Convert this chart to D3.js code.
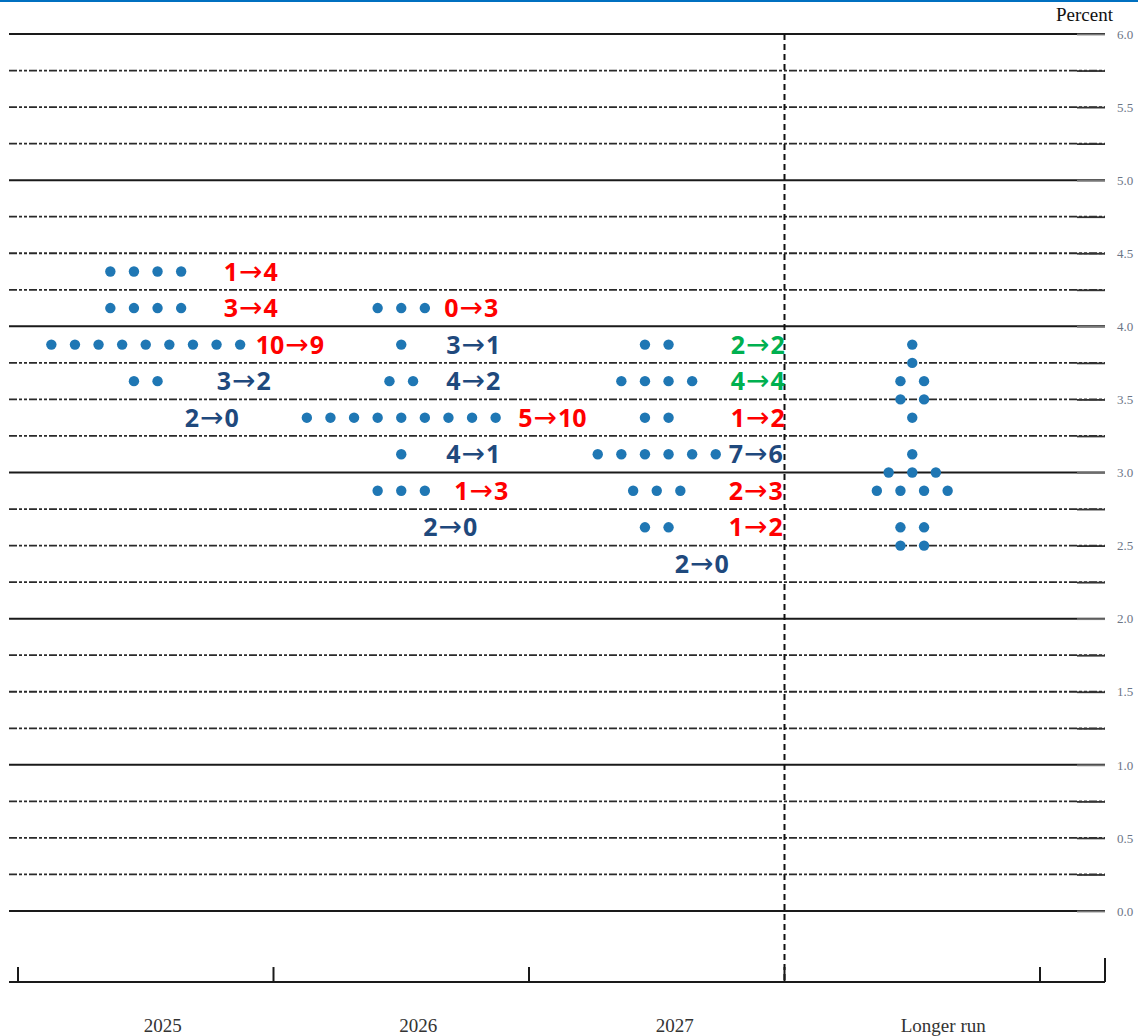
<!DOCTYPE html>
<html>
<head>
<meta charset="utf-8">
<script src="https://cdn.jsdelivr.net/npm/d3@7"></script>
<style>
	body { margin: 0; background: #fff; }
	svg { display: block; }
</style>
</head>
<body>
<div id="chart"></div>
<script>
const categories = ["2025", "2026", "2027", "Longer run"];

// [category, midpoint of target range, number of participants]
const dotRows = [
	["2025", 4.375, 4], ["2025", 4.125, 4], ["2025", 3.875, 9], ["2025", 3.625, 2],
	["2026", 4.125, 3], ["2026", 3.875, 1], ["2026", 3.625, 2], ["2026", 3.375, 9], ["2026", 3.125, 1], ["2026", 2.875, 3],
	["2027", 3.875, 2], ["2027", 3.625, 4], ["2027", 3.375, 2], ["2027", 3.125, 6], ["2027", 2.875, 3], ["2027", 2.625, 2],
	["Longer run", 3.875, 1], ["Longer run", 3.75, 1], ["Longer run", 3.625, 2], ["Longer run", 3.5, 2],
	["Longer run", 3.375, 1], ["Longer run", 3.125, 1], ["Longer run", 3.0, 3], ["Longer run", 2.875, 4],
	["Longer run", 2.625, 2], ["Longer run", 2.5, 2]
];

// [category, rate, previous count, current count, colour key]
const changeRows = [
	["2025", 4.375, 1, 4, "up"], ["2025", 4.125, 3, 4, "up"], ["2025", 3.875, 10, 9, "up"],
	["2025", 3.625, 3, 2, "down"], ["2025", 3.375, 2, 0, "down"],
	["2026", 4.125, 0, 3, "up"], ["2026", 3.875, 3, 1, "down"], ["2026", 3.625, 4, 2, "down"],
	["2026", 3.375, 5, 10, "up"], ["2026", 3.125, 4, 1, "down"], ["2026", 2.875, 1, 3, "up"],
	["2026", 2.625, 2, 0, "down"],
	["2027", 3.875, 2, 2, "same"], ["2027", 3.625, 4, 4, "same"], ["2027", 3.375, 1, 2, "up"],
	["2027", 3.125, 7, 6, "down"], ["2027", 2.875, 2, 3, "up"], ["2027", 2.625, 1, 2, "up"],
	["2027", 2.375, 2, 0, "down"]
];
// label offset from the column centre (px)
const changeLabelDx = [78, 78, 110, 71, 39, 43, 45, 45, 117, 45, 53, 22, 74, 74, 74, 72, 72, 72, 18];

const yTicks = d3.range(0, 6.001, 0.25);
const categoryLabelDx = [17, 17, 18, 31];

const changeColors = { up: "#ff0000", down: "#1f497d", same: "#00b050" };

class DotPlot {
	constructor(id) {
		this.w = 1138;
		this.h = 1036;
		this.dotSpacing = 23.6;
		this.dotRadius = 5.2;

		this.svg = d3.select(id)
			.append("svg")
			.attr("width", this.w)
			.attr("height", this.h);

		this.x = d3.scaleBand()
			.domain(categories)
			.range([18, 1040]);

		this.y = d3.scaleLinear()
			.domain([0, 6])
			.range([911, 34]);

		this.gridLeft = 9;
		this.gridRight = 1105;
		this.axisY = this.y(-0.486);
	}

	render() {
		this.drawFrame();
		this.drawGrid();
		this.drawAxes();
		this.drawDots();
		this.drawLabels();
	}

	drawFrame() {
		this.svg.append("rect")
			.attr("x", 0).attr("y", 0)
			.attr("width", this.w).attr("height", 2)
			.attr("fill", "#0070c0");
	}

	drawGrid() {
		this.svg.append("g")
			.selectAll("line")
			.data(yTicks)
			.enter().append("line")
			.attr("x1", this.gridLeft)
			.attr("x2", this.gridRight)
			.attr("y1", (d) => this.y(d))
			.attr("y2", (d) => this.y(d))
			.attr("stroke", (d) => d % 1 === 0 ? "#1a1a1a" : "#2a2a2a")
			.attr("stroke-width", (d) => d % 1 === 0 ? 2 : 1.8)
			.attr("stroke-dasharray", (d) => d % 1 === 0 ? null : "8,2,3,2,3,2");

		// divider before the longer run column
		this.svg.append("line")
			.attr("x1", this.x("Longer run"))
			.attr("x2", this.x("Longer run"))
			.attr("y1", this.y(6))
			.attr("y2", this.axisY)
			.attr("stroke", "#111")
			.attr("stroke-width", 2)
			.attr("stroke-dasharray", "6,4");
	}

	drawAxes() {
		let yAxis = d3.axisRight(this.y)
			.tickValues(yTicks)
			.tickSize(-28)
			.tickPadding(12)
			.tickFormat((d) => (d * 2) % 1 === 0 ? d3.format(".1f")(d) : "");

		let gy = this.svg.append("g")
			.attr("transform", "translate(" + this.gridRight + ",0)")
			.call(yAxis);
		gy.select(".domain").remove();
		gy.selectAll(".tick line")
			.attr("stroke", (d) => d % 1 === 0 ? "#777" : "#333")
			.attr("stroke-width", 1.8);
		gy.selectAll(".tick text")
			.attr("font-family", "Liberation Serif, serif")
			.attr("font-size", 13)
			.attr("fill", "#6b7586");

		this.svg.append("text")
			.attr("x", 1113)
			.attr("y", 21)
			.attr("text-anchor", "end")
			.attr("font-family", "Liberation Serif, serif")
			.attr("font-size", 19)
			.attr("fill", "#111")
			.text("Percent");

		// bottom axis
		let gx = this.svg.append("g");
		gx.append("line")
			.attr("x1", this.gridLeft)
			.attr("x2", this.gridRight)
			.attr("y1", this.axisY)
			.attr("y2", this.axisY)
			.attr("stroke", "#1a1a1a")
			.attr("stroke-width", 2);

		let bounds = categories.map((c) => this.x(c)).concat([this.x.range()[1]]);
		gx.selectAll(".xtick")
			.data(bounds)
			.enter().append("line")
			.attr("class", "xtick")
			.attr("x1", (d) => d).attr("x2", (d) => d)
			.attr("y1", this.axisY)
			.attr("y2", this.axisY - 15)
			.attr("stroke", "#1a1a1a")
			.attr("stroke-width", 2);

		gx.append("line")
			.attr("x1", this.gridRight).attr("x2", this.gridRight)
			.attr("y1", this.axisY)
			.attr("y2", this.axisY - 24)
			.attr("stroke", "#1a1a1a")
			.attr("stroke-width", 2);

		gx.selectAll(".xlabel")
			.data(categories)
			.enter().append("text")
			.attr("class", "xlabel")
			.attr("x", (d, i) => this.x(d) + this.x.bandwidth() / 2 + categoryLabelDx[i])
			.attr("y", 1032)
			.attr("text-anchor", "middle")
			.attr("font-family", "Liberation Serif, serif")
			.attr("font-size", 19)
			.attr("fill", "#333")
			.text((d) => d);
	}

	colCenter(cat) {
		return this.x(cat) + this.x.bandwidth() / 2;
	}

	drawDots() {
		let dots = [];
		dotRows.forEach(([cat, rate, n]) => {
			for (let i = 0; i < n; i++) {
				dots.push({ cat: cat, rate: rate, offset: i - (n - 1) / 2 });
			}
		});

		this.svg.append("g")
			.selectAll("circle")
			.data(dots)
			.enter().append("circle")
			.attr("cx", (d) => this.colCenter(d.cat) + d.offset * this.dotSpacing)
			.attr("cy", (d) => this.y(d.rate))
			.attr("r", this.dotRadius)
			.attr("fill", "#1f77b4");
	}

	drawLabels() {
		let labels = this.svg.append("g")
			.selectAll("text")
			.data(changeRows)
			.enter().append("text")
			.attr("x", (d, i) => this.colCenter(d[0]) + changeLabelDx[i])
			.attr("y", (d) => this.y(d[1]))
			.attr("dy", "0.36em")
			.attr("font-family", "Noto Sans, DejaVu Sans, sans-serif")
			.attr("font-weight", "bold")
			.attr("font-size", 25)
			.attr("fill", (d) => changeColors[d[4]]);

		labels.append("tspan").text((d) => d[2]);
		// the arrow in the original is long and thin
		labels.append("tspan")
			.attr("dx", 1)
			.attr("font-family", "DejaVu Sans, sans-serif")
			.attr("font-weight", "normal")
			.attr("font-size", 28)
			.text("\u2192");
		labels.append("tspan")
			.attr("dx", 1)
			.text((d) => d[3]);
	}
}

let chart = new DotPlot("#chart");
chart.render();
</script>
</body>
</html>
